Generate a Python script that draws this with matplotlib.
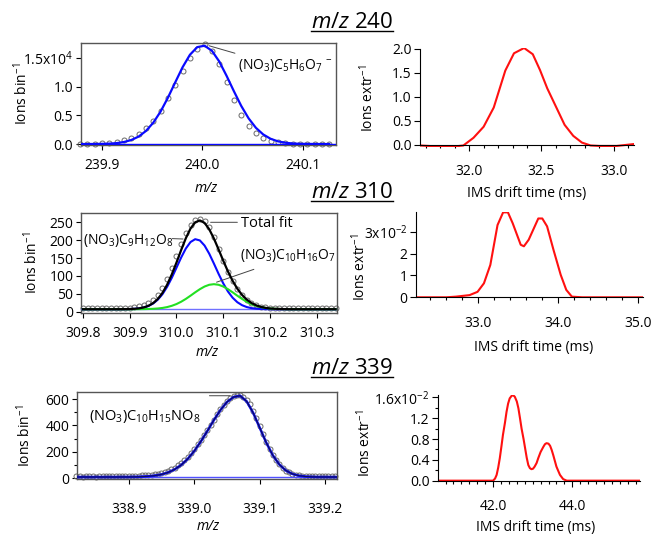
import numpy as np
import matplotlib
matplotlib.use("Agg")
import matplotlib.pyplot as plt
from matplotlib.lines import Line2D
from matplotlib.ticker import MultipleLocator

plt.rcParams['font.family'] = ['Open Sans', 'DejaVu Sans']
plt.rcParams['mathtext.fontset'] = 'custom'
plt.rcParams['mathtext.rm'] = 'Open Sans'
plt.rcParams['mathtext.it'] = 'Open Sans:italic'
plt.rcParams['font.size'] = 10

# ---- m/z 240 : mass spectrum (ions bin^-1), bins of 0.0073 Th
mz240_start, mz240_stop = 239.878, 240.1262
circ240 = [0.002, 0.003, 0.006, 0.01, 0.02, 0.04, 0.07, 0.11, 0.18, 0.28, 0.41, 0.57,
           0.80, 1.03, 1.27, 1.50, 1.66, 1.75, 1.62, 1.40, 1.08, 0.77, 0.51, 0.32,
           0.19, 0.11, 0.06, 0.03, 0.015, 0.008, 0.004, 0.003, 0.002, 0.002, 0.001]
fit240 = [0.0, 0.0, 0.001, 0.003, 0.007, 0.016, 0.035, 0.070, 0.130, 0.228, 0.372, 0.567,
          0.809, 1.077, 1.34, 1.557, 1.69, 1.715, 1.626, 1.44, 1.19, 0.921, 0.665, 0.449,
          0.283, 0.167, 0.092, 0.047, 0.023, 0.010, 0.004, 0.002, 0.001, 0.0, 0.0]

# ---- m/z 240 : IMS drift time (ions extr^-1)
ims240_t = [31.66, 31.72, 31.78, 31.84, 31.90, 31.96, 32.03, 32.10, 32.17, 32.25, 32.31,
            32.38, 32.44, 32.49, 32.54, 32.60, 32.66, 32.72, 32.78, 32.84, 32.90, 32.96,
            33.02, 33.08, 33.14]
ims240_y = [-0.01, -0.02, -0.03, -0.03, -0.03, -0.01, 0.15, 0.38, 0.78, 1.55, 1.91, 2.02,
            1.89, 1.56, 1.18, 0.80, 0.42, 0.19, 0.05, -0.01, -0.02, -0.02, -0.02, 0.0, 0.02]

# ---- m/z 310 : mass spectrum, bins of 0.01 Th from 309.80
mz310_start, mz310_stop = 309.80, 310.34
circ310 = [9, 9, 9, 9, 9, 9, 9,
           9.5, 10, 10.5, 11, 12.5, 15, 19, 25, 34, 48, 67, 92, 122, 156, 190, 220, 243,
           256, 259, 253, 236, 208, 176, 143, 112, 85, 63, 46, 33, 24, 18, 14, 12, 11,
           10, 10, 9.5, 9.5, 9.5, 9, 9, 9, 9, 9, 9, 9, 9, 9]
blue310 = [7.0] * 8 + [7.1, 7.2, 7.5, 8.1, 9.3, 11.7, 15.9, 22.8, 33.5, 48.9, 69.5, 94.7,
           123.0, 151.5, 176.7, 194.8, 202.8, 199.3, 185.0, 162.2, 134.6, 105.8, 79.1,
           56.5, 39.1, 26.6, 18.3, 13.1, 10.1, 8.5, 7.7, 7.3, 7.1] + [7.0] * 14
green310 = [7.0] * 12 + [7.1, 7.3, 7.6, 8.1, 9.0, 10.5, 12.9, 16.5, 21.4, 27.9, 35.8, 44.8,
            54.2, 63.0, 70.4, 75.3, 77.0, 75.3, 70.4, 63.0, 54.2, 44.8, 35.8, 27.9, 21.4,
            16.5, 12.9, 10.5, 9.0, 8.1, 7.6, 7.3, 7.1] + [7.0] * 10
total310 = [7.0] * 8 + [7.1, 7.2, 7.5, 8.1, 9.4, 12.0, 16.5, 23.9, 35.5, 52.4, 75.4, 104.2,
            137.4, 172.4, 205.5, 232.6, 250.0, 255.3, 248.4, 230.5, 204.6, 174.1, 142.5,
            112.5, 86.3, 64.4, 47.1, 34.0, 24.5, 18.0, 13.6, 10.8, 9.1, 8.2, 7.7, 7.3,
            7.1] + [7.0] * 10

# ---- m/z 310 : IMS (x10^-2)
ims310_t = [32.22, 32.40, 32.60, 32.72, 32.89, 32.99, 33.07, 33.15, 33.24, 33.31, 33.37,
            33.43, 33.53, 33.57, 33.63, 33.75, 33.80, 33.86, 33.94, 34.03, 34.10, 34.17,
            34.30, 34.60, 35.06]
ims310_y = [0, 0, 0.0, 0.03, 0.10, 0.25, 0.64, 1.48, 3.30, 3.88, 3.88, 3.38, 2.40, 2.33,
            2.63, 3.60, 3.60, 3.24, 2.17, 1.03, 0.34, 0.03, 0, 0, 0]

# ---- m/z 339 : mass spectrum, data bins of 0.005 Th, fit every 0.01 Th
circ339_start, circ339_stop = 338.820, 339.215
circ339 = [14, 15, 13, 14, 15, 14, 13, 15, 14, 15, 14, 15, 16, 15, 16, 17, 17, 18, 19, 20,
           22, 23, 26, 28, 32, 36, 41, 48, 57, 68, 82, 98, 118, 140, 165, 194, 225, 258,
           292, 328, 365, 405, 445, 484, 522, 556, 584, 606, 620, 630, 631, 618, 594, 560,
           512, 456, 396, 336, 278, 224, 177, 138, 105, 79, 59, 45, 35, 28, 23, 20, 18, 17,
           16, 15, 15, 14, 15, 14, 14, 14]
fit339_start, fit339_stop = 338.82, 339.22
fit339 = [10] * 7 + [10.3, 10.6, 11.3, 12.8, 15.6, 20.8, 29.8, 44.5, 67.4, 100.9, 146.9,
          206.4, 278.0, 358.1, 440.5, 516.7, 577.6, 615.3, 625.0, 583.2, 495.6, 383.0,
          269.9, 174.3, 104.1, 58.9, 33.1, 19.9, 13.8, 11.3, 10.4, 10.1] + [10, 10]

# ---- m/z 339 : IMS (x10^-2)
ims339_t = [40.61, 41.0, 41.5, 42.0, 42.05, 42.09, 42.13, 42.17, 42.21, 42.25, 42.30, 42.34,
            42.38, 42.42, 42.47, 42.51, 42.55, 42.60, 42.64, 42.68, 42.72, 42.77, 42.81,
            42.85, 42.89, 42.93, 42.97, 43.01, 43.05, 43.10, 43.14, 43.20, 43.27, 43.31,
            43.35, 43.40, 43.44, 43.48, 43.52, 43.56, 43.60, 43.65, 43.69, 43.77, 43.86,
            44.5, 45.0, 45.71]
ims339_y = [0, 0, 0, 0, 0.04, 0.11, 0.25, 0.43, 0.65, 0.88, 1.11, 1.32, 1.48, 1.58, 1.63,
            1.64, 1.61, 1.52, 1.39, 1.20, 1.00, 0.80, 0.62, 0.44, 0.30, 0.24, 0.22, 0.23,
            0.27, 0.34, 0.43, 0.55, 0.65, 0.70, 0.72, 0.71, 0.67, 0.59, 0.49, 0.38, 0.27,
            0.18, 0.11, 0.03, 0, 0, 0, 0]

BLUE = '#0a0aff'
GREEN = '#22e022'
RED = '#ff1010'
FRAME = '#555555'

W, H = 656, 535
fig = plt.figure(figsize=(W / 100, H / 100), dpi=100)


def box(x0, y0, x1, y1):
    return [x0 / W, 1 - y1 / H, (x1 - x0) / W, (y1 - y0) / H]


def ms_axes(rect, xpad=6):
    ax = fig.add_axes(box(*rect))
    for s in ax.spines.values():
        s.set_color(FRAME)
        s.set_linewidth(1.0)
    ax.tick_params(direction='out', length=3.5, width=0.8, pad=2)
    ax.tick_params(axis='x', pad=xpad)
    return ax


def ims_axes(rect):
    ax = fig.add_axes(box(*rect))
    ax.spines['top'].set_visible(False)
    ax.spines['right'].set_visible(False)
    ax.spines['bottom'].set_position(('data', 0))
    ax.tick_params(which='major', direction='out', length=4.5, width=0.8, pad=1.5)
    ax.tick_params(which='minor', direction='out', length=2.5, width=0.8)
    ax.tick_params(axis='x', which='major', pad=9)
    return ax


def circles(ax, x, y):
    ax.plot(x, y, 'o', ms=3.6, mfc='none', mec='#6a6a6a', mew=0.7, clip_on=False, zorder=2)


# ---------------- m/z 240 mass spectrum
ax1 = ms_axes((81, 43, 336, 144.6))
x240 = np.linspace(mz240_start, mz240_stop, len(circ240))
circles(ax1, x240, np.array(circ240) * 1e4)
ax1.plot(x240, np.array(fit240) * 1e4, color=BLUE, lw=1.6, zorder=3)
ax1.axhline(0, color=BLUE, lw=1.0, zorder=3)
ax1.set_xlim(239.879, 240.133)
ax1.set_ylim(-100, 17620)
ax1.set_xticks([239.9, 240.0, 240.1])
ax1.set_yticks([0, 5000, 10000, 15000])
ax1.set_yticklabels(['0.0', '0.5', '1.0', '1.5x10$^{4}$'])
ax1.set_ylabel('Ions bin$^{-1}$')
ax1.yaxis.set_label_coords(-0.196, 0.5)
ax1.annotate('', xy=(240.004, 17270), xytext=(240.035, 15700),
             arrowprops=dict(arrowstyle='-', color='#444444', lw=0.7))
ax1.text(240.035, 13780, '(NO$_3$)C$_5$H$_6$O$_7$ $^{-}$', va='center', ha='left')

# ---------------- m/z 240 IMS
ax2 = ims_axes((420, 48, 634, 147.4))
ax2.plot(ims240_t, ims240_y, color=RED, lw=1.5)
ax2.set_xlim(31.66, 33.14)
ax2.set_ylim(-0.05, 2.02)
ax2.spines['left'].set_bounds(0, 2.0)
ax2.set_xticks([32.0, 32.5, 33.0])
ax2.xaxis.set_minor_locator(MultipleLocator(0.1))
ax2.set_yticks([0, 0.5, 1.0, 1.5, 2.0])
ax2.set_yticklabels(['0.0', '0.5', '1.0', '1.5', '2.0'])
ax2.set_ylabel('Ions extr$^{-1}$')
ax2.yaxis.set_label_coords(-0.20, 0.5)

# ---------------- m/z 310 mass spectrum
ax3 = ms_axes((81, 213, 337, 313))
x310 = np.linspace(mz310_start, mz310_stop, len(circ310))
circles(ax3, x310, circ310)
ax3.axhline(7, color='#7070ff', lw=1.0, zorder=3)
ax3.plot(x310, blue310, color=BLUE, lw=1.5, zorder=3)
ax3.plot(x310, green310, color=GREEN, lw=1.5, zorder=3)
ax3.plot(x310, total310, color='black', lw=1.6, zorder=4)
ax3.set_xlim(309.796, 310.343)
ax3.set_ylim(-3.6, 276)
ax3.set_xticks([309.8, 309.9, 310.0, 310.1, 310.2, 310.3])
ax3.set_yticks([0, 50, 100, 150, 200, 250])
ax3.set_ylabel('Ions bin$^{-1}$')
ax3.yaxis.set_label_coords(-0.156, 0.5)
ax3.annotate('', xy=(310.067, 250), xytext=(310.136, 250),
             arrowprops=dict(arrowstyle='-', color='#444444', lw=0.7))
ax3.text(310.138, 248, 'Total fit', va='center', ha='left', fontsize=10.5)
ax3.annotate('', xy=(310.02, 203), xytext=(309.985, 204.7),
             arrowprops=dict(arrowstyle='-', color='#444444', lw=0.7))
ax3.text(309.800, 198.5, '(NO$_3$)C$_9$H$_{12}$O$_8$', va='center', ha='left')
ax3.annotate('', xy=(310.080, 80), xytext=(310.171, 121),
             arrowprops=dict(arrowstyle='-', color='#444444', lw=0.7))
ax3.text(310.136, 155.8, '(NO$_3$)C$_{10}$H$_{16}$O$_7$', va='center', ha='left')

# ---------------- m/z 310 IMS
ax4 = ims_axes((416, 211.7, 643, 298.4))
ax4.plot(ims310_t, ims310_y, color=RED, lw=1.5)
ax4.set_xlim(32.22, 35.06)
ax4.set_ylim(-0.05, 3.91)
ax4.spines['left'].set_bounds(0, 3.91)
ax4.set_xticks([33.0, 34.0, 35.0])
ax4.set_xticklabels(['33.0', '34.0', '35.0'])
ax4.xaxis.set_minor_locator(MultipleLocator(0.2))
ax4.set_yticks([0, 1, 2, 3])
ax4.set_yticklabels(['0', '1', '2', '3x10$^{-2}$'])
ax4.set_ylabel('Ions extr$^{-1}$')
ax4.yaxis.set_label_coords(-0.207, 0.36)

# ---------------- m/z 339 mass spectrum
ax5 = ms_axes((77, 392.3, 337, 479), xpad=13)
xc339 = np.linspace(circ339_start, circ339_stop, len(circ339))
xf339 = np.linspace(fit339_start, fit339_stop, len(fit339))
circles(ax5, xc339, circ339)
ax5.axhline(12, color='#5050ff', lw=1.0, zorder=3)
ax5.plot(xf339, fit339, color=BLUE, lw=1.8, zorder=3)
ax5.plot(xf339, fit339, color='#101050', lw=0.8, zorder=4)
ax5.set_xlim(338.821, 339.218)
ax5.set_ylim(-5, 651)
ax5.set_xticks([338.9, 339.0, 339.1, 339.2])
ax5.set_yticks([0, 200, 400, 600])
ax5.yaxis.set_minor_locator(MultipleLocator(100))
ax5.tick_params(which='minor', direction='out', length=2, width=0.8)
ax5.set_ylabel('Ions bin$^{-1}$')
ax5.yaxis.set_label_coords(-0.165, 0.5)
ax5.annotate('', xy=(339.059, 625), xytext=(339.019, 625),
             arrowprops=dict(arrowstyle='-', color='#444444', lw=0.7))
ax5.text(338.839, 466, '(NO$_3$)C$_{10}$H$_{15}$NO$_8$', va='center', ha='left',
         fontsize=10.5)

# ---------------- m/z 339 IMS
ax6 = ims_axes((438, 395, 640, 481.7))
ax6.plot(ims339_t, ims339_y, color=RED, lw=1.5)
ax6.set_xlim(40.61, 45.71)
ax6.set_ylim(-0.02, 1.645)
ax6.spines['left'].set_bounds(0, 1.645)
ax6.set_xticks([42.0, 44.0])
ax6.set_xticklabels(['42.0', '44.0'])
ax6.xaxis.set_minor_locator(MultipleLocator(0.2))
ax6.set_yticks([0, 0.4, 0.8, 1.2, 1.6])
ax6.set_yticklabels(['0.0', '0.4', '0.8', '1.2', '1.6x10$^{-2}$'])
ax6.yaxis.set_minor_locator(MultipleLocator(0.2))
ax6.set_ylabel('Ions extr$^{-1}$')
ax6.yaxis.set_label_coords(-0.317, 0.45)

# ---------------- x labels and titles (figure pixel positions)
def ftext(x, y, s, **kw):
    return fig.text(x / W, 1 - y / H, s, ha='center', va='center', **kw)


for (x, y) in [(206, 189), (207, 353), (208, 527)]:
    ftext(x, y, 'm/z', style='italic')
for (x, y) in [(527, 193), (534, 347), (536, 527)]:
    ftext(x, y, 'IMS drift time (ms)')

titles = []
for (y, n) in [(22, '240'), (192, '310'), (368, '339')]:
    titles.append(ftext(352, y, r'$\mathit{m/z}$ ' + n, fontsize=16))

fig.canvas.draw()
r = fig.canvas.get_renderer()
for t in titles:
    bb = t.get_window_extent(r)
    yl = bb.y0 + 1.5
    fig.add_artist(Line2D([bb.x0 / W, bb.x1 / W], [yl / H, yl / H], color='black', lw=1.0,
                          transform=fig.transFigure))

fig.savefig('out.png', dpi=100)
